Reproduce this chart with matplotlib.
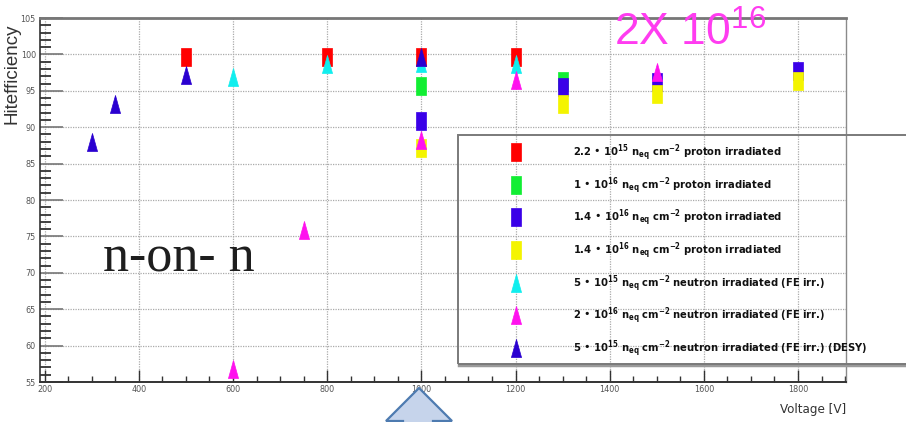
import matplotlib
matplotlib.use("Agg")
import matplotlib.pyplot as plt
from matplotlib import font_manager
from matplotlib.path import Path
from matplotlib.patches import Rectangle, Polygon
from matplotlib.ticker import MultipleLocator

# ---- data -----------------------------------------------------------------
labels = [
    r"2.2 • 10$^{\mathregular{15}}$ n$_{\mathregular{eq}}$ cm$^{\mathregular{-2}}$ proton irradiated",
    r"1 • 10$^{\mathregular{16}}$ n$_{\mathregular{eq}}$ cm$^{\mathregular{-2}}$ proton irradiated",
    r"1.4 • 10$^{\mathregular{16}}$ n$_{\mathregular{eq}}$ cm$^{\mathregular{-2}}$ proton irradiated",
    r"1.4 • 10$^{\mathregular{16}}$ n$_{\mathregular{eq}}$ cm$^{\mathregular{-2}}$ proton irradiated",
    r"5 • 10$^{\mathregular{15}}$ n$_{\mathregular{eq}}$ cm$^{\mathregular{-2}}$ neutron irradiated (FE irr.)",
    r"2 • 10$^{\mathregular{16}}$ n$_{\mathregular{eq}}$ cm$^{\mathregular{-2}}$ neutron irradiated (FE irr.)",
    r"5 • 10$^{\mathregular{15}}$ n$_{\mathregular{eq}}$ cm$^{\mathregular{-2}}$ neutron irradiated (FE irr.) (DESY)",
]

red_v = [500, 800, 1000, 1200]
red_eff = [99.6, 99.6, 99.7, 99.6]

green_v = [1000, 1300]
green_eff = [95.7, 96.3]

blue_v = [1000, 1300, 1500, 1800]
blue_eff = [90.9, 95.5, 96.2, 97.7]

yellow_v = [1000, 1300, 1500, 1800]
yellow_eff = [87.1, 93.2, 94.6, 96.3]

cyan_v = [600, 800, 1000, 1200]
cyan_eff = [96.9, 98.7, 98.8, 98.7]

magenta_v = [600, 750, 1000, 1200, 1500]
magenta_eff = [56.8, 75.9, 88.2, 96.5, 97.6]

desy_v = [300, 350, 500, 1000]
desy_eff = [88.0, 93.2, 97.2, 99.6]

x_ticks = [200, 400, 600, 800, 1000, 1200, 1400, 1600, 1800]
y_ticks = [55, 60, 65, 70, 75, 80, 85, 90, 95, 100, 105]

# ---- fonts ----------------------------------------------------------------
_names = {f.name for f in font_manager.fontManager.ttflist}
if "Liberation Sans Narrow" in _names:
    NARROW, STRETCH = "Liberation Sans Narrow", "normal"
else:
    NARROW, STRETCH = "DejaVu Sans", "condensed"
SANS = "Liberation Sans" if "Liberation Sans" in _names else "DejaVu Sans"
SERIF = "Liberation Serif" if "Liberation Serif" in _names else "DejaVu Serif"

# ---- marker shapes (tall rectangles and tall triangles) -------------------
rect_marker = Path([(-0.56, -1), (0.56, -1), (0.56, 1), (-0.56, 1), (-0.56, -1)],
                   [Path.MOVETO, Path.LINETO, Path.LINETO, Path.LINETO, Path.CLOSEPOLY])
tri_marker = Path([(-0.56, -1), (0.56, -1), (0, 1), (-0.56, -1)],
                  [Path.MOVETO, Path.LINETO, Path.LINETO, Path.CLOSEPOLY])

W, H = 906, 422
fig = plt.figure(figsize=(W / 100, H / 100), dpi=100)
fig.patch.set_facecolor("white")


def fx(px):
    return px / W


def fy(py):
    return 1 - py / H


ax_l, ax_r, ax_t, ax_b = 40, 846, 18, 382
ax = fig.add_axes([fx(ax_l), fy(ax_b), (ax_r - ax_l) / W, (ax_b - ax_t) / H])
ax.set_xlim(190, 1902)
ax.set_ylim(55, 105)

series = [
    (red_v, red_eff, rect_marker, "#ff0000"),
    (green_v, green_eff, rect_marker, "#11ee33"),
    (blue_v, blue_eff, rect_marker, "#3a00e8"),
    (yellow_v, yellow_eff, rect_marker, "#f4f400"),
    (cyan_v, cyan_eff, tri_marker, "#11eeee"),
    (magenta_v, magenta_eff, tri_marker, "#ff11ee"),
    (desy_v, desy_eff, tri_marker, "#2a00d0"),
]
handles = []
for (xv, yv, mk, col), lab in zip(series, labels):
    h, = ax.plot(xv, yv, linestyle="none", marker=mk, markersize=13,
                 markerfacecolor=col, markeredgecolor=col, markeredgewidth=0.5,
                 label=lab, zorder=3)
    handles.append(h)

# ---- axes styling ---------------------------------------------------------
ax.xaxis.set_minor_locator(MultipleLocator(50))
ax.yaxis.set_minor_locator(MultipleLocator(1))
ax.set_xticks(x_ticks)
ax.set_yticks(y_ticks)
ax.set_xticklabels([str(t) for t in x_ticks])
ax.set_yticklabels([str(t) for t in y_ticks])

ax.grid(True, which="major", color="#aaaaaa", linestyle=(0, (1, 1)), linewidth=0.9)
ax.set_axisbelow(True)

ax.tick_params(axis="y", which="major", direction="in", length=16.5, width=1.2,
               color="#777777", pad=3, labelsize=6.5, labelcolor="#555555")
ax.tick_params(axis="y", which="minor", direction="in", length=8, width=1.3,
               color="#333333")
ax.tick_params(axis="x", which="major", direction="in", length=8.5, width=1.0,
               color="#333333", pad=2.5, labelsize=6.5, labelcolor="#555555")
ax.tick_params(axis="x", which="minor", direction="in", length=4.3, width=1.0,
               color="#333333")
for lab in ax.get_xticklabels() + ax.get_yticklabels():
    lab.set_family(NARROW)
    lab.set_stretch(STRETCH)

ax.spines["top"].set_color("#777777")
ax.spines["top"].set_linewidth(2.0)
ax.spines["right"].set_color("#8a8a8a")
ax.spines["right"].set_linewidth(1.0)
ax.spines["left"].set_color("#333333")
ax.spines["left"].set_linewidth(1.2)
ax.spines["bottom"].set_color("#333333")
ax.spines["bottom"].set_linewidth(1.4)

ax.set_ylabel("Hitefficiency", family=SANS, fontsize=13.5, color="#333333")
ax.yaxis.set_label_coords((21 - ax_l) / (ax_r - ax_l), 1 - (74 - ax_t) / (ax_b - ax_t))
ax.set_xlabel("Voltage [V]", family=NARROW, fontstretch=STRETCH, fontsize=9.5,
              color="#333333", loc="right")
ax.xaxis.set_label_coords(1.0, -(403 - ax_b) / (ax_b - ax_t))

# ---- legend ---------------------------------------------------------------
leg = ax.legend(handles=handles, loc="upper left",
                bbox_to_anchor=(fx(505), fy(142)), bbox_transform=fig.transFigure,
                frameon=False, borderpad=0, borderaxespad=0, handlelength=2.0,
                handletextpad=4.1, labelspacing=1.05, numpoints=1,
                prop=dict(family=NARROW, weight="bold", size=8, stretch=STRETCH))
for t in leg.get_texts():
    t.set_color("#111111")

fig.patches.append(Rectangle((fx(458), fy(364)), fx(480), (364 - 135) / H,
                             transform=fig.transFigure, facecolor="none",
                             edgecolor="#7a7a7a", linewidth=1.4, zorder=5))
fig.add_artist(plt.Line2D([fx(459), fx(906)], [fy(365), fy(365)],
                          transform=fig.transFigure, color="#9a9a9a", linewidth=2.5))

# ---- annotations ----------------------------------------------------------
fig.text(fx(103), fy(272), "n-on- n", family=SERIF, fontsize=37.5, color="#1e1e1e",
         ha="left", va="baseline")
fig.text(fx(614), fy(46), r"2X 10$^{\mathregular{16}}$", family=SANS, fontsize=32,
         color="#ff3cf0", ha="left", va="baseline")

arrow = Polygon([(fx(419), fy(388)), (fx(386), fy(421)), (fx(403), fy(421)),
                 (fx(403), fy(440)), (fx(433), fy(440)), (fx(433), fy(421)),
                 (fx(452), fy(421))], closed=True, transform=fig.transFigure,
                facecolor="#c6d4eb", edgecolor="#4e7bb0", linewidth=1.6,
                clip_on=False)
fig.patches.append(arrow)

fig.savefig("out.png", dpi=100)
